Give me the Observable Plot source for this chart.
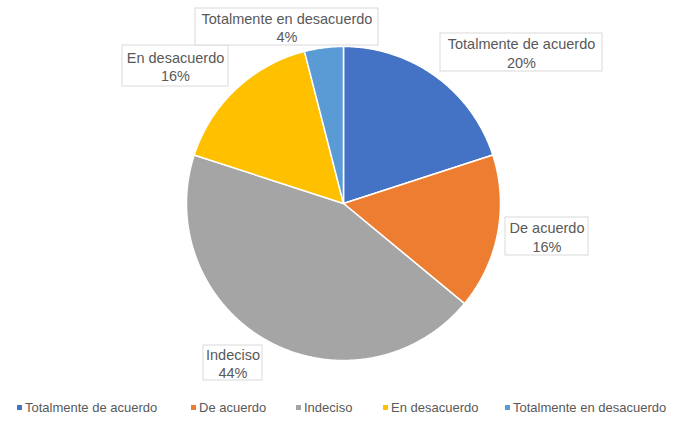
<!DOCTYPE html>
<html>
<head>
<meta charset="utf-8">
<script src="https://cdn.jsdelivr.net/npm/d3@7"></script>
<script src="https://cdn.jsdelivr.net/npm/@observablehq/plot@0.6"></script>
<style>
  html, body { margin: 0; padding: 0; background: #fff; }
  #chart { width: 675px; height: 421px; position: relative; overflow: hidden; }
  #legend { position: relative; width: 675px; height: 26px; font-family: "Liberation Sans", Arial, sans-serif; font-size: 13px; color: #595959; }
  #legend .item { position: absolute; top: 5px; white-space: nowrap; line-height: 16px; }
  #legend .sw { display: inline-block; width: 5px; height: 5px; margin-right: 3px; vertical-align: middle; position: relative; top: -1px; }
</style>
</head>
<body>
<div id="chart"></div>
<script>
// ---- data ----
const categories = ["Totalmente de acuerdo", "De acuerdo", "Indeciso", "En desacuerdo", "Totalmente en desacuerdo"];
const values = [20, 16, 44, 16, 4];
const colors = ["#4472C4", "#ED7D31", "#A5A5A5", "#FFC000", "#5B9BD5"];

// ---- layout (pixels) ----
const W = 675, H = 395;
const CX = 343, CY = 203, R = 157;
// label boxes: [left, top, right, bottom] in pixels, by category index
const labelBoxes = [
  [440, 33, 602, 71],
  [505, 217, 588, 255],
  [203, 345, 262, 380],
  [122, 45, 228, 86],
  [195, 8, 378, 45]
];
const legendPos = [17, 191, 296, 383, 505];

const px2x = p => (p - CX) / R;
const py2y = p => (CY - p) / R;

// slices from values
const arcs = d3.pie().sort(null).value(d => d)(values);
const slicePts = [];
arcs.forEach((a, i) => {
  slicePts.push({cat: categories[i], x: 0, y: 0});
  const n = Math.max(8, Math.ceil((a.endAngle - a.startAngle) / 0.01));
  for (let k = 0; k <= n; k++) {
    const t = a.startAngle + (a.endAngle - a.startAngle) * k / n;
    slicePts.push({cat: categories[i], x: Math.sin(t), y: Math.cos(t)});
  }
  slicePts.push({cat: categories[i], x: 0, y: 0});
});

const labels = categories.map((c, i) => {
  const [l, t, r, b] = labelBoxes[i];
  return {
    cat: c,
    text: `${c}\n${values[i]}%`,
    x1: px2x(l), x2: px2x(r), y1: py2y(t), y2: py2y(b),
    x: px2x((l + r) / 2), y: py2y((t + b) / 2)
  };
});

const plot = Plot.plot({
  width: W, height: H,
  marginTop: 0, marginRight: 0, marginBottom: 0, marginLeft: 0,
  x: {domain: [px2x(0), px2x(W)], axis: null},
  y: {domain: [py2y(H), py2y(0)], axis: null},
  color: {domain: categories, range: colors},
  style: {background: "#fff", overflow: "visible"},
  marks: [
    Plot.line(slicePts, {x: "x", y: "y", z: "cat", fill: "cat", stroke: "#fff", strokeWidth: 1.5, curve: "linear"}),
    Plot.rect(labels, {x1: "x1", x2: "x2", y1: "y1", y2: "y2", fill: "#fff", stroke: "#d9d9d9", strokeWidth: 1}),
    Plot.text(labels, {x: "x", y: "y", text: "text", fill: "#595959", fontSize: 14.5, fontFamily: "Liberation Sans, Arial, sans-serif", lineHeight: 1.3, textAnchor: "middle"})
  ]
});
document.getElementById("chart").appendChild(plot);

// legend
const legend = document.createElement("div");
legend.id = "legend";
categories.forEach((c, i) => {
  const it = document.createElement("span");
  it.className = "item";
  it.style.left = legendPos[i] + "px";
  const sw = document.createElement("span");
  sw.className = "sw";
  sw.style.background = colors[i];
  it.appendChild(sw);
  it.appendChild(document.createTextNode(c));
  legend.appendChild(it);
});
document.getElementById("chart").appendChild(legend);
</script>
</body>
</html>
